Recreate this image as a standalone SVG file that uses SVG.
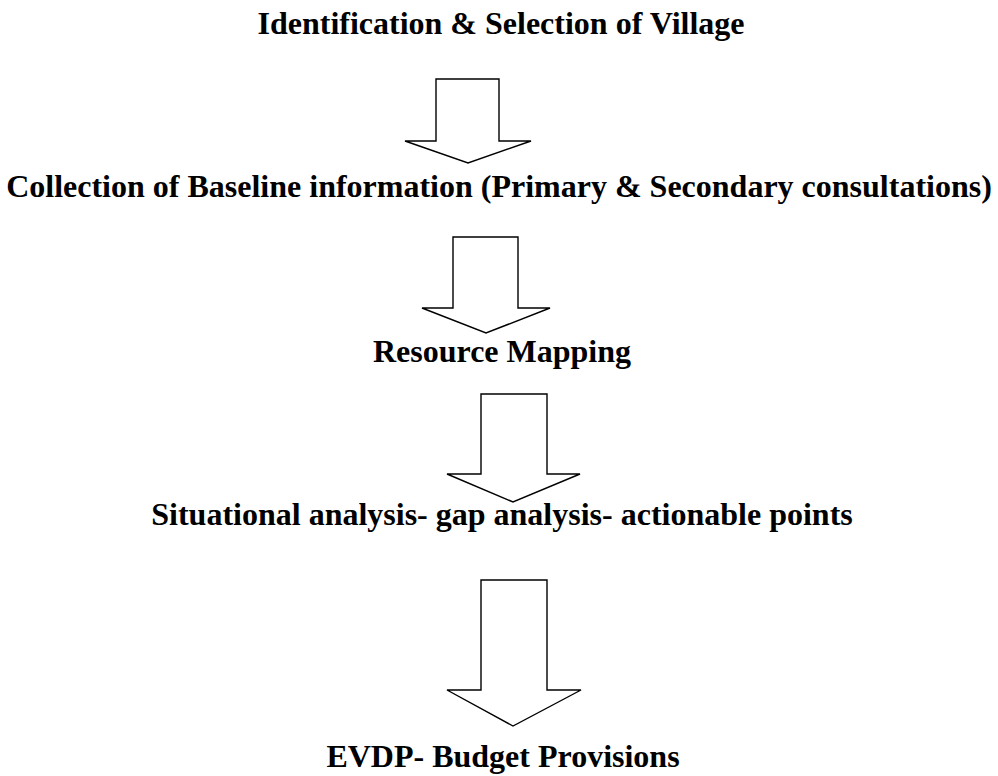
<svg xmlns="http://www.w3.org/2000/svg" width="998" height="776" viewBox="0 0 998 776">
<style>
.t{font-family:"Liberation Serif","Times New Roman",serif;font-weight:bold;font-size:32px;fill:#000;text-anchor:middle}
.a{fill:#fff;stroke:#000;stroke-width:1.4;stroke-linejoin:miter}
</style>
<rect width="998" height="776" fill="#fff"/>
<g id="n1"><text class="t" x="501" y="34">Identification &amp; Selection of Village</text></g>
<g id="n2"><text class="t" x="499" y="197">Collection of Baseline information (Primary &amp; Secondary consultations)</text></g>
<g id="n3"><text class="t" x="502" y="362">Resource Mapping</text></g>
<g id="n4"><text class="t" x="502" y="525">Situational analysis- gap analysis- actionable points</text></g>
<g id="n5"><text class="t" x="503" y="767">EVDP- Budget Provisions</text></g>
<g id="connectors">
<path class="a" d="M436,79 H499 V141 H531 L468,163 L405,141 H436 Z"/>
<path class="a" d="M453,237 H518 V308 H550 L486,333 L422,308 H453 Z"/>
<path class="a" d="M481,394 H547 V474 H580 L513,502 L447,474 H481 Z"/>
<path class="a" d="M481,580 H547 V690 H581 L513,726 L447,690 H481 Z"/>
</g>
</svg>
